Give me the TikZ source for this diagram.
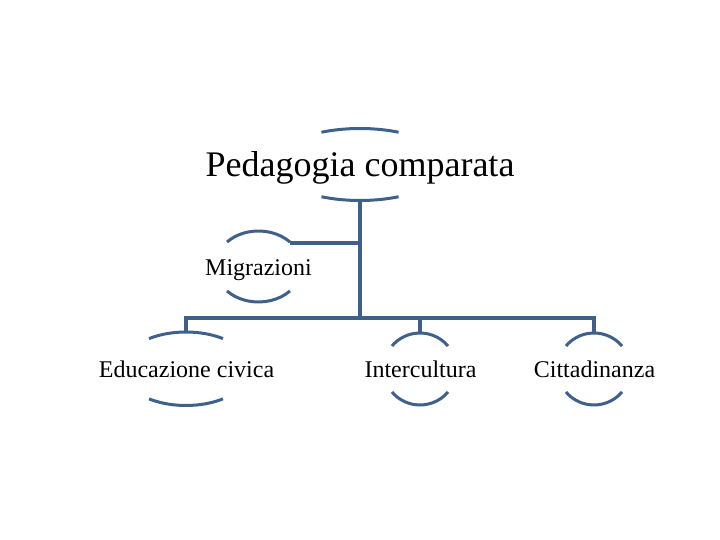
\documentclass[tikz,border=0pt]{standalone}
\usepackage{fontspec}
\setmainfont{Liberation Serif}
\definecolor{lineblue}{RGB}{62,96,138}
\newcommand{\nodearcs}[4]{%
  \draw[arcline] ([shift={(#4:#2pt and #3pt)}]#1) arc[start angle=#4, end angle={180-#4}, x radius=#2pt, y radius=#3pt];
  \draw[arcline] ([shift={(-#4:#2pt and #3pt)}]#1) arc[start angle=-#4, end angle={-180+#4}, x radius=#2pt, y radius=#3pt];}
\begin{document}
\begin{tikzpicture}[x=1pt,y=1pt,
  conn/.style={draw=lineblue, line width=3.2pt},
  arcline/.style={draw=lineblue, line width=3pt},
  bigtext/.style={font=\fontsize{36}{40}\selectfont, anchor=base, inner sep=0pt},
  smalltext/.style={font=\fontsize{24}{28}\selectfont, anchor=base, inner sep=0pt}]
\useasboundingbox[fill=white] (0,0) rectangle (720,540);

% ellipse centres
\coordinate (pc) at (360,375.5);
\coordinate (mc) at (258.5,273.5);
\coordinate (ec) at (186,171.25);
\coordinate (ic) at (420,171);
\coordinate (cc) at (594,171);

% texts
\node[bigtext] (p) at (360,363) {Pedagogia comparata};
\node[smalltext] (m) at (258.5,264) {Migrazioni};
\node[smalltext] (e) at (186.5,162) {Educazione civica};
\node[smalltext] (i) at (420.5,162) {Intercultura};
\node[smalltext] (c) at (594.5,162) {Cittadinanza};

% arcs
\nodearcs{pc}{86.7}{36}{63.6}
\nodearcs{mc}{43.5}{35.5}{43.6}
\nodearcs{ec}{64.6}{36.75}{55.1}
\nodearcs{ic}{36.4}{36}{39.7}
\nodearcs{cc}{36.4}{36}{39.7}

% connector end points
\coordinate (pB) at (360,339.5);
\coordinate (mR) at (290,297);
\coordinate (eT) at (186,208);
\coordinate (iT) at (420,207);
\coordinate (cT) at (594,207);
\coordinate (bus) at (0,222);

\draw[conn] (pB) -- (pB |- bus);
\draw[conn] (mR) -- (mR -| pB);
\draw[conn] (eT) -- (eT |- bus) -- (cT |- bus) -- (cT);
\draw[conn] (iT) -- (iT |- bus);
\end{tikzpicture}
\end{document}
